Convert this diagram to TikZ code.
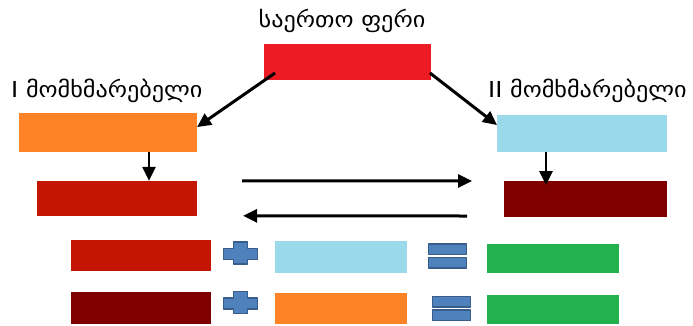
\documentclass[tikz,border=0pt]{standalone}
\usepackage{fontspec}
\setmainfont[FakeStretch=1.1]{DejaVu Sans}
\usetikzlibrary{arrows.meta,calc}

\definecolor{commonred}{HTML}{ED1C24}
\definecolor{userorange}{HTML}{FE8327}
\definecolor{userblue}{HTML}{99D9EA}
\definecolor{mixred}{HTML}{C41502}
\definecolor{mixmaroon}{HTML}{800000}
\definecolor{resultgreen}{HTML}{22B14C}
\definecolor{signfill}{HTML}{4F81BD}
\definecolor{signedge}{HTML}{385D8A}

\tikzset{
  swatch/.style={rectangle, inner sep=0pt, outer sep=0pt, draw=none},
  arr/.style={line width=3pt, -{Triangle[length=14pt,width=13pt]}},
  lbl/.style={inner sep=0pt, font=\fontsize{22}{24}\selectfont},
  signshape/.style={fill=signfill, draw=signedge, line width=1.6pt, line join=round},
  pics/plussign/.style={code={
    \path[signshape] (-17,-4.5) -- (-7,-4.5) -- (-7,-11) -- (7,-11) -- (7,-4.5) -- (17,-4.5)
      -- (17,6.5) -- (7,6.5) -- (7,11) -- (-7,11) -- (-7,6.5) -- (-17,6.5) -- cycle;
  }},
  pics/equalsign/.style={code={
    \path[signshape] (-19,-12) rectangle (19,-1.6);
    \path[signshape] (-19,1.6) rectangle (19,12);
  }},
}

\begin{document}
\begin{tikzpicture}[x=1pt,y=-1pt]
\useasboundingbox (0,0) rectangle (693,325);

% labels
\node[lbl] (title) at (342,21) {საერთო ფერი};
\node[lbl, anchor=west] (userone) at (11,91) {I მომხმარებელი};
\node[lbl, anchor=west] (usertwo) at (488,91) {II მომხმარებელი};

% common colour and the two users' colours
\node[swatch, fill=commonred, minimum width=167pt, minimum height=36pt] (common) at (347.5,62) {};
\node[swatch, fill=userorange, minimum width=177.5pt, minimum height=38.5pt] (orange) at (107.8,132.3) {};
\node[swatch, fill=userblue, minimum width=170pt, minimum height=36.5pt] (blue) at (582,133.3) {};

% mixtures exchanged between the users
\node[swatch, fill=mixred, minimum width=159.5pt, minimum height=35pt] (mixone) at (116.8,198.3) {};
\node[swatch, fill=mixmaroon, minimum width=163pt, minimum height=36pt] (mixtwo) at (585.5,199) {};

% bottom equations
\node[swatch, fill=mixred, minimum width=140pt, minimum height=31pt] (eqAa) at (141,255.5) {};
\node[swatch, fill=userblue, minimum width=132pt, minimum height=32pt] (eqAb) at (341,257) {};
\node[swatch, fill=resultgreen, minimum width=132pt, minimum height=29pt] (eqAc) at (553,258.3) {};

\node[swatch, fill=mixmaroon, minimum width=140pt, minimum height=32pt] (eqBa) at (141,308) {};
\node[swatch, fill=userorange, minimum width=132pt, minimum height=31pt] (eqBb) at (341,308) {};
\node[swatch, fill=resultgreen, minimum width=132pt, minimum height=29.5pt] (eqBc) at (553,309.5) {};

\pic at (240.5,253) {plussign};
\pic at (240.5,302.5) {plussign};
\pic at (447.5,256) {equalsign};
\pic at (451.5,308.5) {equalsign};

% arrows
\draw[arr] ($(common.south west)+(11,-7)$) -- ($(orange.north east)+(0.5,14)$);
\draw[arr] ($(common.south east)+(-1,-7)$) -- ($(blue.north west)+(0,10)$);
\draw[arr, line width=2.6pt] ([xshift=41.2pt]orange.south) -- ([xshift=32.2pt]mixone.north);
\draw[arr, line width=2.6pt] ([xshift=-36pt]blue.south) -- ([xshift=-39.5pt,yshift=-4pt]mixtwo.north);
\draw[arr] ($(mixone.north east)+(45.5,0)$) -- ($(mixtwo.north west)+(-32,0)$);
\draw[arr] ($(mixtwo.south west)+(-37,-1)$) -- ($(mixone.south east)+(46.5,0)$);
\end{tikzpicture}
\end{document}
